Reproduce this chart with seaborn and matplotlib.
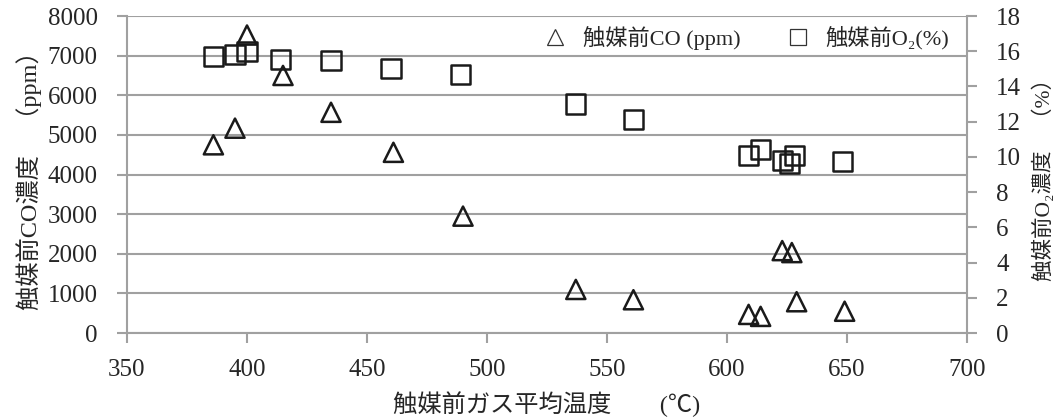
import matplotlib
matplotlib.use("Agg")
import matplotlib.pyplot as plt
from matplotlib.lines import Line2D
import seaborn as sns
import pandas as pd

# Gas temperature before the catalyst (°C)
co_temp = [386, 395, 400, 415, 435, 461, 490, 537, 561, 609, 614, 623, 627, 629, 649]
# CO concentration before the catalyst (ppm)
co_ppm = [4750, 5170, 7520, 6500, 5570, 4560, 2950, 1100, 840, 470, 420, 2080, 2030, 790, 550]

o2_temp = [386, 395, 400, 414, 435, 460, 489, 537, 561, 609, 614, 623, 626, 628, 648]
# O2 concentration before the catalyst (%)
o2_pct = [15.7, 15.82, 15.98, 15.55, 15.45, 15.0, 14.7, 13.0, 12.13, 10.1, 10.4, 9.8, 9.62, 10.1, 9.75]

x_ticks = [350, 400, 450, 500, 550, 600, 650, 700]
co_ticks = [0, 1000, 2000, 3000, 4000, 5000, 6000, 7000, 8000]
o2_ticks = [0, 2, 4, 6, 8, 10, 12, 14, 16, 18]

sns.set_theme(style="white")
FAM = ["Liberation Serif", "Noto Sans CJK JP", "DejaVu Serif"]
plt.rcParams["font.family"] = FAM

GRAY = "#a0a0a0"
FS_TICK = 18
FS_LABEL = 17.5

co_df = pd.DataFrame({"temp": co_temp, "co": co_ppm})
o2_df = pd.DataFrame({"temp": o2_temp, "o2": o2_pct})

fig = plt.figure(figsize=(10.6, 4.18), dpi=100)
ax = fig.add_axes([0.1198, 0.2033, 0.7925, 0.7584])
ax2 = ax.twinx()

sns.scatterplot(data=co_df, x="temp", y="co", ax=ax, marker="^", s=190,
                facecolor="none", edgecolor="#1a1a1a", linewidth=1.8, zorder=3,
                legend=False)
sns.scatterplot(data=o2_df, x="temp", y="o2", ax=ax2, marker="s", s=190,
                facecolor="none", edgecolor="#1a1a1a", linewidth=1.8, zorder=3,
                legend=False)

ax.set_xlim(350, 700)
ax.set_ylim(0, 8000)
ax2.set_ylim(0, 18)
ax.set_xticks(x_ticks)
ax.set_yticks(co_ticks)
ax2.set_yticks(o2_ticks)

ax.grid(axis="y", color=GRAY, linewidth=1.5)
ax.grid(axis="x", visible=False)
ax2.grid(False)
ax.set_axisbelow(True)

for a in (ax, ax2):
    a.spines["top"].set_visible(False)
    for side in ("left", "bottom", "right"):
        a.spines[side].set_color(GRAY)
        a.spines[side].set_linewidth(1.5)
ax.spines["right"].set_visible(False)
ax2.spines["left"].set_visible(False)
ax2.spines["bottom"].set_visible(False)

ax.tick_params(axis="x", direction="out", length=7, width=1.5, color=GRAY,
               labelsize=FS_TICK, pad=12, bottom=True)
ax.tick_params(axis="y", direction="out", length=7, width=1.5, color=GRAY,
               labelsize=FS_TICK, pad=14, left=True)
ax2.tick_params(axis="y", direction="out", length=7, width=1.5, color=GRAY,
                labelsize=FS_TICK, pad=14, right=True)

ax.set_xlabel("触媒前ガス平均温度　　(℃)", fontsize=FS_LABEL, labelpad=7)
ax.set_ylabel("触媒前CO濃度　（ppm）", fontsize=FS_LABEL, labelpad=4)
ax2.set_ylabel("触媒前O₂濃度　（%）", fontsize=15.5, labelpad=8)

handles = [
    Line2D([], [], linestyle="none", marker="^", markersize=12,
           markerfacecolor="none", markeredgecolor="#333333", markeredgewidth=0.9),
    Line2D([], [], linestyle="none", marker="s", markersize=12,
           markerfacecolor="none", markeredgecolor="#333333", markeredgewidth=0.9),
]
labels = ["触媒前CO (ppm)", "触媒前O₂(%)"]
ax2.legend(handles, labels, loc="upper right", bbox_to_anchor=(0.995, 1.01),
           ncol=2, frameon=False, fontsize=16, handlelength=1.0,
           handletextpad=0.75, columnspacing=2.1, borderaxespad=0.2)

fig.savefig("out.png", dpi=100)
